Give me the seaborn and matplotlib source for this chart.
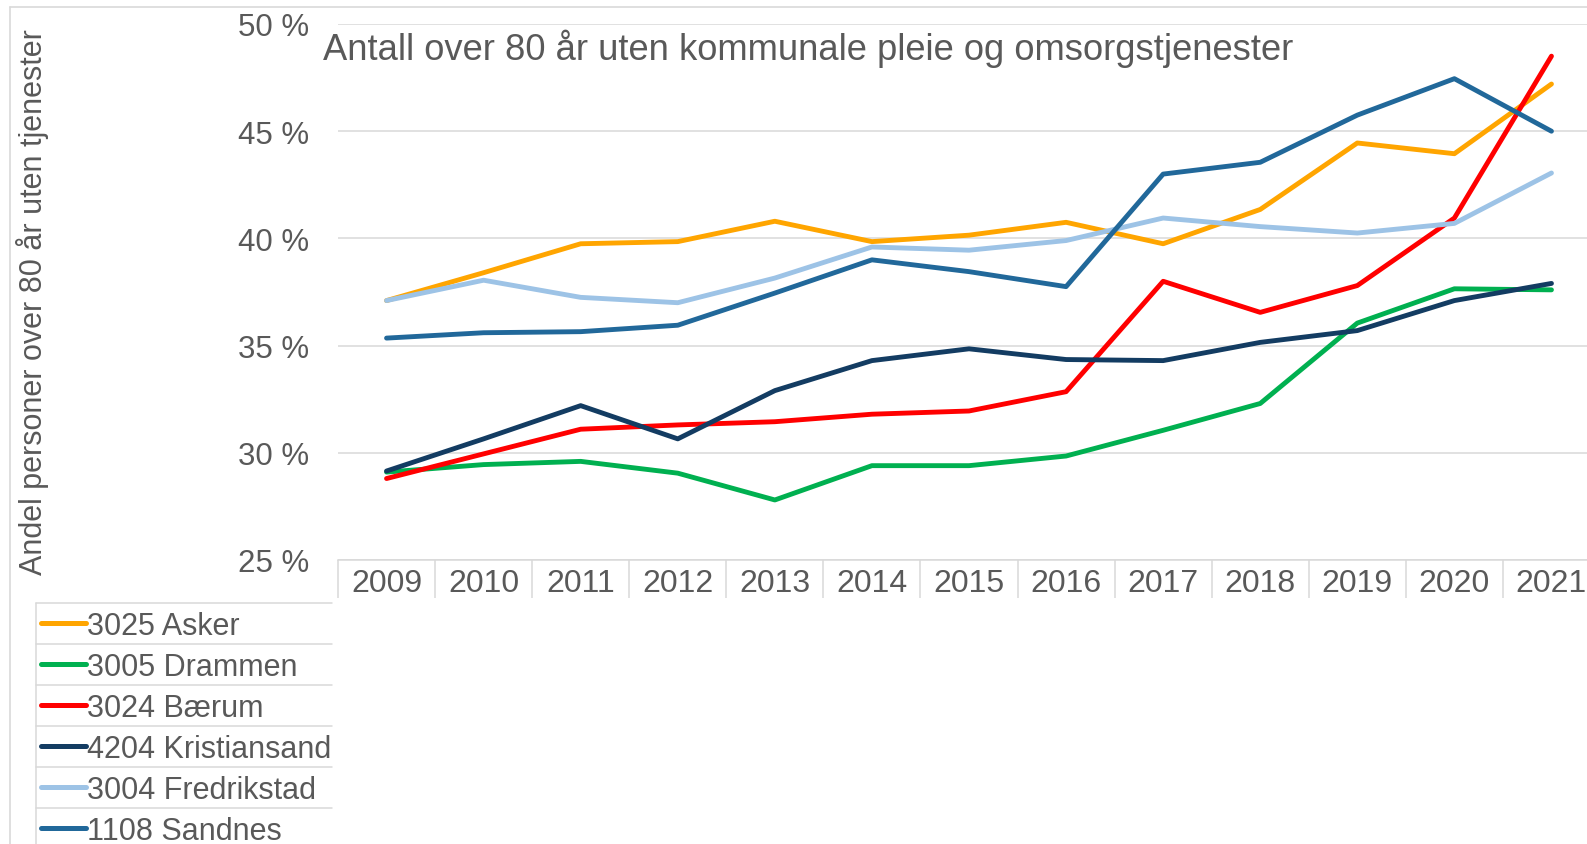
import numpy as np
import pandas as pd
import seaborn as sns
import matplotlib
matplotlib.use("Agg")
from matplotlib import pyplot as plt
from matplotlib.lines import Line2D

years = list(range(2009, 2022))
asker = [37.1, 38.4, 39.75, 39.85, 40.8, 39.85, 40.15, 40.75, 39.75, 41.35, 44.45, 43.95, 47.2]
drammen = [29.1, 29.45, 29.6, 29.05, 27.8, 29.4, 29.4, 29.85, 31.05, 32.3, 36.05, 37.65, 37.6]
baerum = [28.8, 29.95, 31.1, 31.3, 31.45, 31.8, 31.95, 32.85, 38.0, 36.55, 37.8, 40.95, 48.5]
kristiansand = [29.15, 30.65, 32.2, 30.65, 32.9, 34.3, 34.85, 34.35, 34.3, 35.15, 35.7, 37.1, 37.9]
fredrikstad = [37.1, 38.05, 37.25, 37.0, 38.15, 39.6, 39.45, 39.9, 40.95, 40.55, 40.25, 40.7, 43.05]
sandnes = [35.35, 35.6, 35.65, 35.95, 37.45, 39.0, 38.45, 37.75, 43.0, 43.55, 45.75, 47.45, 45.0]

names = ["3025 Asker", "3005 Drammen", "3024 Bærum", "4204 Kristiansand",
         "3004 Fredrikstad", "1108 Sandnes"]
colors = ["#FFA500", "#00B050", "#FF0000", "#133C62", "#9DC3E6", "#21689A"]
series = [asker, drammen, baerum, kristiansand, fredrikstad, sandnes]

rows = []
for name, vals in zip(names, series):
    for y, v in zip(years, vals):
        rows.append({"year": y, "value": v, "kommune": name})
df = pd.DataFrame(rows)

sns.set_style("white")
plt.rcParams["font.family"] = ["Liberation Sans", "DejaVu Sans"]
txt = "#595959"
grid = "#D9D9D9"

W, H = 1587, 845
fig = plt.figure(figsize=(W / 100, H / 100), dpi=100)
ax_l, ax_r, ax_t, ax_b = 338, 1600, 25, 561
ax = fig.add_axes([ax_l / W, 1 - ax_b / H, (ax_r - ax_l) / W, (ax_b - ax_t) / H])

sns.lineplot(data=df, x="year", y="value", hue="kommune", hue_order=names,
             palette=dict(zip(names, colors)), linewidth=3.5, legend=False, ax=ax)

ax.set_xlim(years[0] - 0.5, years[-1] + 0.5)
ax.set_ylim(25, 50)
ax.set_yticks(np.arange(25, 51, 5))
ax.set_yticklabels([f"{int(t)} %" for t in np.arange(25, 51, 5)])
ax.yaxis.grid(True, color=grid, linewidth=1.1)
ax.tick_params(axis="y", length=0, pad=21, labelsize=22.5, labelcolor=txt)

# category cells on the x axis
ax.set_xticks(np.arange(years[0] - 0.5, years[-1] + 1, 1.0))
ax.set_xticklabels([])
ax.set_xticks(years, minor=True)
ax.set_xticklabels([str(y) for y in years], minor=True)
ax.tick_params(axis="x", which="major", bottom=True, length=27, width=1.1, color=grid,
               direction="out")
ax.tick_params(axis="x", which="minor", bottom=True, length=0, pad=6, labelsize=23,
               labelcolor=txt)

for s in ["top", "right", "left"]:
    ax.spines[s].set_visible(False)
ax.spines["bottom"].set_color(grid)
ax.spines["bottom"].set_linewidth(1.1)
ax.set_xlabel("")
ax.set_ylabel("")

fig.text(323 / W, 1 - 60 / H, "Antall over 80 år uten kommunale pleie og omsorgstjenester",
         fontsize=26.2, color=txt, ha="left", va="baseline")
fig.text(33 / W, 1 - 302 / H, "Andel personer over 80 år uten tjenester",
         fontsize=22, color=txt, rotation=90, ha="center", va="center")

# chart area border
fig.add_artist(Line2D([10 / W, 1], [1 - 8 / H, 1 - 8 / H], color=grid, lw=1.2))
fig.add_artist(Line2D([10 / W, 10 / W], [0, 1 - 8 / H], color=grid, lw=1.2))

# legend as table rows
top, rh = 604, 41
fig.add_artist(Line2D([36 / W, 36 / W], [0, 1 - top / H], color=grid, lw=1.1))
for i, (name, c) in enumerate(zip(names, colors)):
    y0 = top + i * rh
    fig.add_artist(Line2D([36 / W, 332 / W], [1 - y0 / H, 1 - y0 / H], color=grid, lw=1.1))
    yc = 1 - (y0 + rh / 2 - 1) / H
    fig.add_artist(Line2D([41 / W, 86 / W], [yc, yc], color=c, lw=3.6, solid_capstyle="round"))
    fig.text(87 / W, yc, name, fontsize=22, color=txt, ha="left", va="center_baseline")

fig.savefig("out.png", dpi=100)
